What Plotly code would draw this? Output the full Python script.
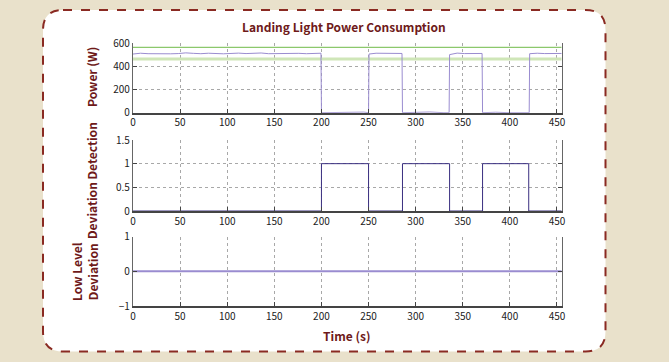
import plotly.graph_objects as go

# ---------------- data ----------------
time_s = [0, 8, 16, 24, 32, 40, 48, 56, 64, 72, 80, 88, 96, 104, 112, 120, 128, 136, 144,
          152, 160, 168, 176, 184, 192, 199.5, 200, 215, 230, 245, 250, 250.5, 258, 266,
          274, 282, 285.5, 286, 300, 315, 330, 335.5, 336, 344, 352, 360, 368, 370.5,
          371, 385, 400, 415, 420.5, 421, 429, 437, 445, 455]
power_w = [505, 512, 508, 506, 510, 507, 509, 515, 511, 508, 512, 509, 507, 510, 513, 509,
           511, 514, 508, 510, 512, 509, 511, 508, 510, 512, 0, 3, 0, 5, 0, 505, 512, 510,
           508, 511, 510, 0, 2, 6, 0, 0, 500, 513, 509, 511, 512, 510, 0, 4, 0, 3, 0, 508,
           512, 509, 511, 510]
upper_limit_w = 562
lower_limit_w = 462

dev_t = [0, 200, 250, 286, 336, 371, 420, 455]
dev_v = [0, 1, 0, 1, 0, 1, 0, 0]

low_t = [0, 455]
low_v = [0, 0]

x_ticks = [0, 50, 100, 150, 200, 250, 300, 350, 400, 450]
p_ticks = [0, 200, 400, 600]
d_ticks = [0, 0.5, 1, 1.5]
d_tick_labels = ["0", "0.5", "1", "1.5"]
l_ticks = [-1, 0, 1]

# ---------------- figure ----------------
W, H = 669, 362
def px(x): return x / W
def py(y): return 1 - y / H

RED = "#6e1a1a"
TFONT = "Noto Sans CJK SC, Liberation Sans, sans-serif"
NFONT = "Noto Sans CJK SC, Liberation Sans, sans-serif"

fig = go.Figure()
fig.add_trace(go.Scatter(x=[0, 455], y=[lower_limit_w] * 2, mode="lines",
                         line=dict(color="#cfe6b8", width=3), xaxis="x", yaxis="y", hoverinfo="skip"))
fig.add_trace(go.Scatter(x=[0, 455], y=[upper_limit_w] * 2, mode="lines",
                         line=dict(color="#8cc86c", width=1.3), xaxis="x", yaxis="y", hoverinfo="skip"))
fig.add_trace(go.Scatter(x=time_s, y=power_w, mode="lines",
                         line=dict(color="#9a8cd0", width=1), xaxis="x", yaxis="y"))
fig.add_trace(go.Scatter(x=dev_t, y=dev_v, mode="lines", line_shape="hv",
                         line=dict(color="#3a2f80", width=1), xaxis="x2", yaxis="y2"))
fig.add_trace(go.Scatter(x=low_t, y=low_v, mode="lines",
                         line=dict(color="#9a8cd0", width=2), xaxis="x3", yaxis="y3"))

xdom = [px(133), px(561.7)]
doms = [[py(112.7), py(43)], [py(211), py(140)], [py(306), py(236.7)]]

def xax(anchor):
    return dict(domain=xdom, anchor=anchor, range=[0, 455], tickvals=x_ticks, automargin=False,
                ticks="inside", ticklen=4, tickcolor="#444", showline=True, linecolor="#444",
                linewidth=1.5, mirror=False, showgrid=True, gridcolor="#a8a8a8", griddash="dot",
                gridwidth=1, zeroline=False, tickfont=dict(family=NFONT, size=10, color="#222"),
                fixedrange=True)

def yax(anchor, dom, rng, tv, tt=None):
    d = dict(domain=dom, anchor=anchor, range=rng, tickvals=tv, ticks="inside", ticklen=4,
             automargin=False,
             tickcolor="#444", showline=True, linecolor="#666", linewidth=1.2, mirror="ticks",
             showgrid=True, gridcolor="#a8a8a8", griddash="dot", gridwidth=1, zeroline=False,
             tickfont=dict(family=NFONT, size=10, color="#222"), fixedrange=True)
    if tt:
        d["ticktext"] = tt
    return d

# rounded dashed box
x0, x1, y0, y1 = px(43), px(605.5), py(10), py(351.5)
rx, ry = 20 / W, 20 / H
path = (f"M {x0+rx},{y0} L {x1-rx},{y0} Q {x1},{y0} {x1},{y0-ry} "
        f"L {x1},{y1+ry} Q {x1},{y1} {x1-rx},{y1} L {x0+rx},{y1} Q {x0},{y1} {x0},{y1+ry} "
        f"L {x0},{y0-ry} Q {x0},{y0} {x0+rx},{y0} Z")

fig.update_layout(
    width=W, height=H, margin=dict(l=0, r=0, t=0, b=0, autoexpand=False),
    paper_bgcolor="#e9e1cb", plot_bgcolor="white", showlegend=False,
    xaxis=xax("y"), yaxis=yax("x", doms[0], [0, 600], p_ticks),
    xaxis2=xax("y2"), yaxis2=yax("x2", doms[1], [0, 1.5], d_ticks, d_tick_labels),
    xaxis3=xax("y3"), yaxis3=yax("x3", doms[2], [-1, 1], l_ticks),
    shapes=[dict(type="path", path=path, xref="paper", yref="paper", layer="below",
                 fillcolor="white", line=dict(color="#8a2a22", width=2, dash="dash"))],
    annotations=[
        dict(text="<b>Landing Light Power Consumption</b>", x=px(343.5), y=py(26),
             xref="paper", yref="paper", showarrow=False, xanchor="center", yanchor="middle",
             font=dict(family=TFONT, size=12, color=RED)),
        dict(text="<b>Time (s)</b>", x=px(346), y=py(335), xref="paper", yref="paper",
             showarrow=False, xanchor="center", yanchor="middle",
             font=dict(family=TFONT, size=12, color=RED)),
        dict(text="<b>Power (W)</b>", x=px(91), y=py(77), xref="paper", yref="paper",
             showarrow=False, textangle=-90, xanchor="center", yanchor="middle",
             font=dict(family=TFONT, size=12, color=RED)),
        dict(text="<b>Deviation Detection</b>", x=px(91), y=py(181), xref="paper", yref="paper",
             showarrow=False, textangle=-90, xanchor="center", yanchor="middle",
             font=dict(family=TFONT, size=12, color=RED)),
        dict(text="<b>Low Level<br>Deviation</b>", x=px(84), y=py(272), xref="paper", yref="paper",
             showarrow=False, textangle=-90, xanchor="center", yanchor="middle",
             font=dict(family=TFONT, size=12, color=RED)),
    ],
)

fig.write_html("out.html", config={"displayModeBar": False},
               post_script="document.body.style.margin='0';document.body.style.background='#e9e1cb';")
